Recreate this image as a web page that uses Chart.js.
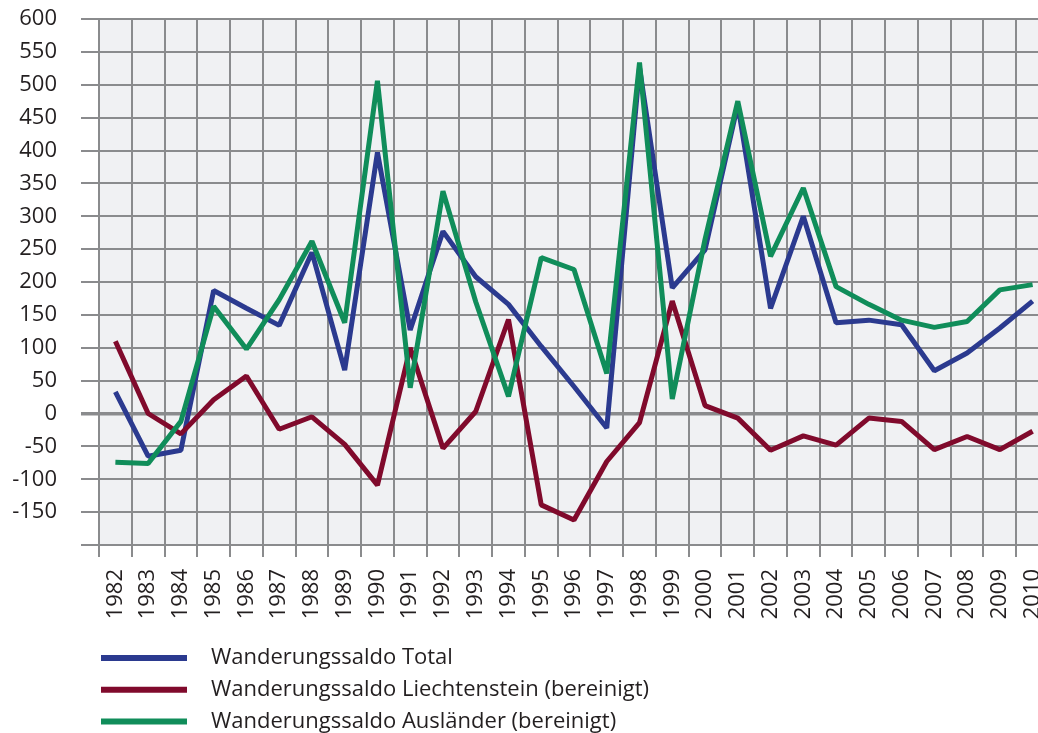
<!DOCTYPE html>
<html>
<head>
<meta charset="utf-8">
<script src="https://cdn.jsdelivr.net/npm/chart.js@4.4.1/dist/chart.umd.min.js"></script>
<style>
    body { margin: 0; overflow: hidden; background: #ffffff; }
    #wrap { position: absolute; left: 0; top: 0; width: 1049px; height: 733px; }
</style>
</head>
<body>
<div id="wrap"><canvas id="migration" width="1049" height="733"></canvas></div>
<script>
// Jahre (Kategorien)
const years = ['1982', '1983', '1984', '1985', '1986', '1987', '1988', '1989', '1990', '1991',
    '1992', '1993', '1994', '1995', '1996', '1997', '1998', '1999', '2000', '2001',
    '2002', '2003', '2004', '2005', '2006', '2007', '2008', '2009', '2010'];

// Wanderungssaldo Total
const saldoTotal = [33, -65, -56, 187, 160, 134, 245, 66, 397, 127,
    277, 208, 166, 102, 41, -22, 526, 191, 249, 470,
    160, 300, 138, 142, 135, 65, 92, 130, 171];

// Wanderungssaldo Liechtenstein (bereinigt)
const saldoLiechtenstein = [110, 0, -31, 21, 57, -24, -5, -47, -109, 100,
    -53, 3, 143, -139, -162, -73, -14, 171, 12, -7,
    -56, -34, -48, -7, -12, -55, -35, -55, -27];

// Wanderungssaldo Auslaender (bereinigt)
const saldoAuslaender = [-74, -76, -12, 163, 98, 173, 262, 138, 506, 39,
    338, 170, 26, 237, 219, 61, 534, 22, 265, 475,
    239, 343, 193, 166, 142, 131, 140, 188, 196];

const seriesLabels = ['Wanderungssaldo Total', 'Wanderungssaldo Liechtenstein (bereinigt)', 'Wanderungssaldo Ausländer (bereinigt)'];

// y-Achse
const yMin = -200;
const yMax = 600;
const yStep = 50;

const colTotal = '#2b3a8f';
const colLiechtenstein = '#800a2c';
const colAuslaender = '#108d5a';
const gridColor = '#8a8b8d';
const textColor = '#231f20';
const tickFont = { family: '"Open Sans", sans-serif', size: 22 };

// plot background
const plotBackground = {
    id: 'plotBackground',
    beforeDraw(chart) {
        const a = chart.chartArea;
        const ctx = chart.ctx;
        ctx.save();
        ctx.fillStyle = '#f0f1f3';
        ctx.fillRect(a.left, a.top, a.right - a.left, a.bottom - a.top);
        ctx.restore();
    }
};

// legend as a vertical list below the axis
const stackedLegend = {
    id: 'stackedLegend',
    afterDraw(chart) {
        const ctx = chart.ctx;
        const a = chart.chartArea;
        ctx.save();
        ctx.font = '22px "Open Sans", sans-serif';
        ctx.textBaseline = 'middle';
        ctx.textAlign = 'left';
        chart.data.datasets.forEach((ds, i) => {
            const y = a.bottom + 113 + i * 31.7;
            ctx.strokeStyle = ds.borderColor;
            ctx.lineWidth = 6;
            ctx.lineCap = 'butt';
            ctx.beginPath();
            ctx.moveTo(a.left + 2, y);
            ctx.lineTo(a.left + 88, y);
            ctx.stroke();
            ctx.fillStyle = textColor;
            ctx.fillText(ds.label, a.left + 112, y);
        });
        ctx.restore();
    }
};

function makeDataset(label, data, color, order)
{
    return {
        label: label,
        data: data,
        borderColor: color,
        backgroundColor: color,
        borderWidth: 5,
        borderJoinStyle: 'bevel',
        borderCapStyle: 'butt',
        pointRadius: 0,
        tension: 0,
        fill: false,
        order: order
    };
}

const ctx = document.getElementById('migration').getContext('2d');
const chart = new Chart(ctx, {
    type: 'line',
    data: {
        labels: years,
        datasets: [
            makeDataset(seriesLabels[0], saldoTotal, colTotal, 3),
            makeDataset(seriesLabels[1], saldoLiechtenstein, colLiechtenstein, 2),
            makeDataset(seriesLabels[2], saldoAuslaender, colAuslaender, 1)
        ]
    },
    options: {
        responsive: false,
        animation: false,
        devicePixelRatio: 1,
        layout: { padding: { top: 19, bottom: 108, left: 0, right: 0 } },
        plugins: {
            legend: { display: false },
            tooltip: { enabled: false }
        },
        scales: {
            x: {
                offset: true,
                grid: {
                    offset: true,
                    color: gridColor,
                    lineWidth: 2,
                    tickLength: 12
                },
                border: { color: gridColor, width: 2 },
                ticks: {
                    minRotation: 90,
                    maxRotation: 90,
                    autoSkip: false,
                    padding: 12,
                    color: textColor,
                    font: tickFont
                },
                afterFit(scale) {
                    scale.height = 80;
                    scale.paddingLeft = 0;
                    scale.paddingRight = 0;
                }
            },
            y: {
                min: yMin,
                max: yMax,
                grid: {
                    color: gridColor,
                    lineWidth: (c) => (c.tick && c.tick.value === 0 ? 3.5 : 2),
                    tickLength: 18
                },
                border: { color: gridColor, width: 2 },
                ticks: {
                    stepSize: yStep,
                    padding: 24,
                    color: textColor,
                    font: tickFont,
                    callback: (v) => (v === yMin ? '' : v)
                },
                afterFit(scale) {
                    scale.width = 99;
                    scale.paddingTop = 0;
                    scale.paddingBottom = 0;
                }
            }
        }
    },
    plugins: [plotBackground, stackedLegend]
});
</script>
</body>
</html>
